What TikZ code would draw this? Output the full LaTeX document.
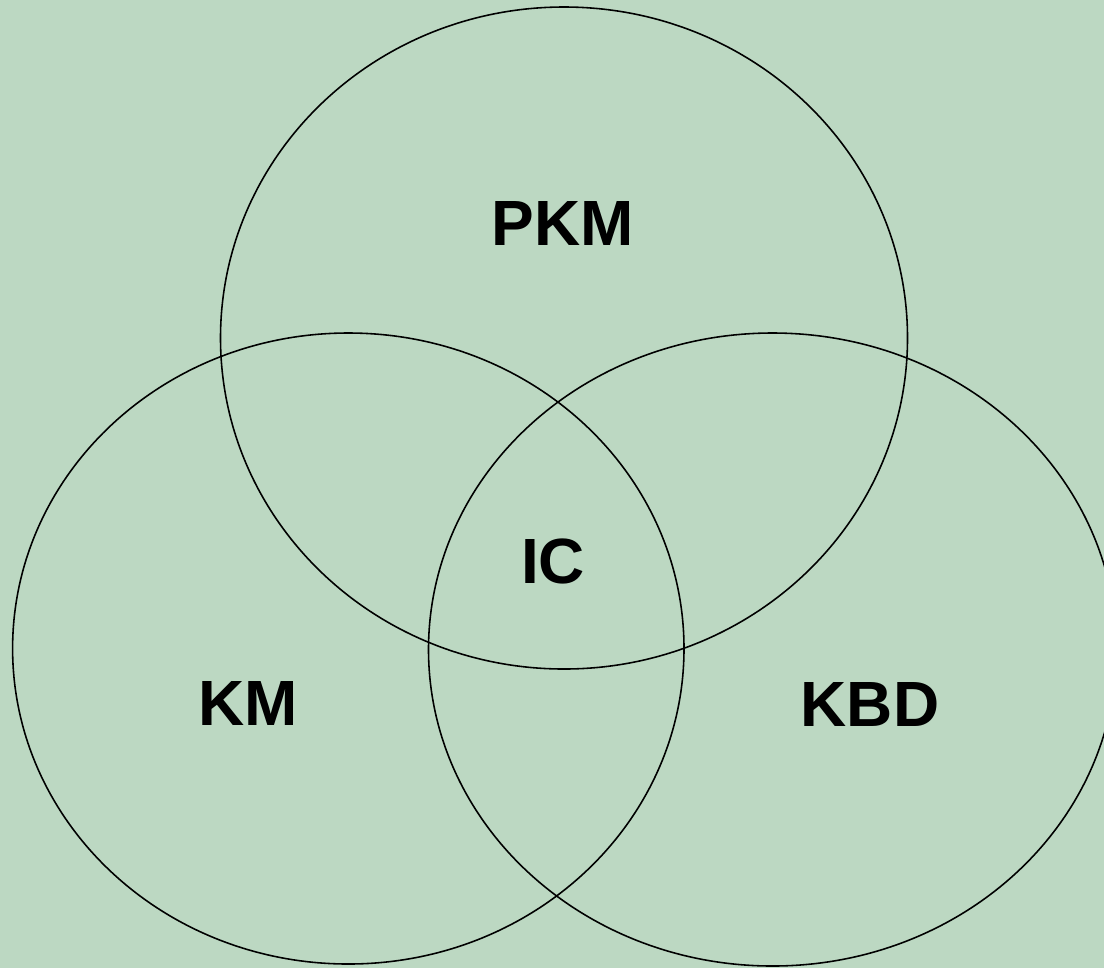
\documentclass[tikz,border=0pt]{standalone}
\usepackage{fontspec}
\setsansfont{Liberation Sans}
\usepackage{xcolor}
\usetikzlibrary{positioning}
\definecolor{sagebg}{RGB}{188,216,194}

\begin{document}
\begin{tikzpicture}[
    x=0.02cm, y=-0.02cm,
    setline/.style={draw=black, line width=0.9pt},
    setlbl/.style={font=\sffamily\bfseries\fontsize{36.4}{40}\selectfont, text=black, inner sep=0pt, anchor=base}
]

    % Hintergrund
    \useasboundingbox (0,0) rectangle (1104,968);
    \clip (0,0) rectangle (1104,968);
    \fill [sagebg] (0,0) rectangle (1104,968);

    % Kreise
    \draw [setline] (564,338) ellipse [x radius=343.5, y radius=331];
    \draw [setline] (348.3,648.5) ellipse [x radius=335.7, y radius=315.5];
    \draw [setline] (772.5,649.5) ellipse [x radius=344, y radius=316.5];

    % Beschriftungen
    \node [setlbl] (pkm) at (562.5,245) {PKM};
    \node [setlbl] (ic) at (553,583) {IC};
    \node [setlbl] (km) at (248,725) {KM};
    \node [setlbl] (kbd) at (870,726) {KBD};

\end{tikzpicture}
\end{document}
